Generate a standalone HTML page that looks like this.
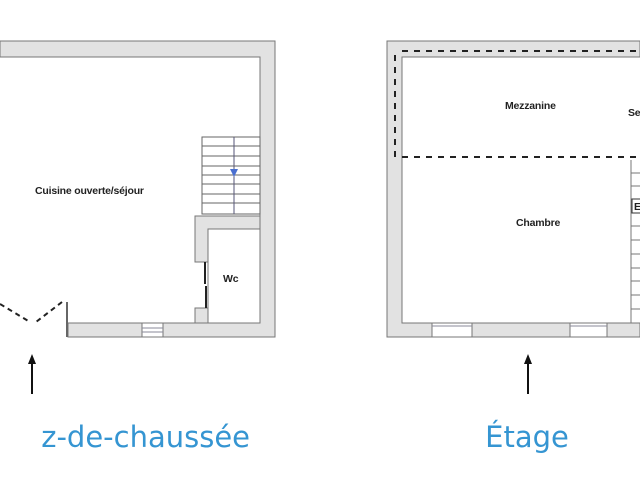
<!DOCTYPE html>
<html><head><meta charset="utf-8"><style>
html,body{margin:0;padding:0;background:#fff;width:640px;height:480px;overflow:hidden}
svg{display:block}
.t{font-family:"Liberation Sans",sans-serif;font-size:10.5px;fill:#222;font-weight:bold;letter-spacing:-0.2px}
.h{font-family:"DejaVu Sans","Liberation Sans",sans-serif;font-size:29px;fill:#3595d2}
</style></head><body>
<svg width="640" height="480" viewBox="0 0 640 480">
<g fill="#e2e2e2" stroke="#777" stroke-width="1">
<path d="M0 41 H275 V337 H68 V323 H260 V57 H0 Z"/>
<rect x="142" y="323" width="21" height="14" fill="#fff"/>
<path d="M195 216 H260 V229 H208 V262 H195 Z"/>
<rect x="195" y="308" width="13" height="15"/>
<line x1="208" y1="229" x2="208" y2="323"/>
<path d="M640 41 H387 V337 H640 V323 H402 V57 H640 Z"/>
<rect x="432" y="323" width="40" height="14" fill="#fff"/>
<rect x="570" y="323" width="37" height="14" fill="#fff"/>
</g>
<g stroke="#889" stroke-width="1">
<line x1="142" y1="328" x2="163" y2="328"/><line x1="142" y1="332" x2="163" y2="332"/>
<line x1="432" y1="326" x2="472" y2="326"/><line x1="570" y1="326" x2="607" y2="326"/>
</g>
<g stroke="#666" stroke-width="1" fill="none">
<rect x="202" y="137" width="58" height="77" fill="#fff"/>
<path d="M202 146H260M202 156H260M202 166H260M202 175H260M202 184H260M202 194H260M202 203H260"/>
<line x1="234" y1="137" x2="234" y2="214" stroke="#557"/>
</g>
<polygon points="230,169 238,169 234,177" fill="#4a6fd0"/>
<line x1="205" y1="262" x2="205" y2="284" stroke="#222" stroke-width="2"/>
<line x1="206" y1="286" x2="206" y2="308" stroke="#222" stroke-width="2"/>
<g stroke="#222" stroke-width="2" fill="none" stroke-dasharray="5 4">
<path d="M0 304 L30 322"/><path d="M62 302 L36 322"/>
</g>
<line x1="67" y1="302" x2="67" y2="337" stroke="#666" stroke-width="2"/>
<g stroke="#222" stroke-width="2" stroke-dasharray="6 6" fill="none">
<line x1="402" y1="51" x2="640" y2="51"/>
<line x1="395" y1="55" x2="395" y2="157"/>
<line x1="402" y1="157" x2="640" y2="157"/>
</g>
<g stroke="#777" stroke-width="1">
<line x1="631" y1="160" x2="631" y2="323"/>
<path d="M631 173H640M631 186H640M631 199H640M631 213H640M631 226H640M631 240H640M631 254H640M631 268H640M631 281H640M631 295H640M631 309H640"/>
</g>
<rect x="632" y="199" width="10" height="14" fill="#fff" stroke="#333"/>
<text class="t" x="634" y="210">E</text>
<text class="t" x="35" y="194">Cuisine ouverte/séjour</text>
<text class="t" x="223" y="282">Wc</text>
<text class="t" x="505" y="109">Mezzanine</text>
<text class="t" x="628" y="116">Se</text>
<text class="t" x="516" y="226">Chambre</text>
<g stroke="#111" stroke-width="2"><line x1="32" y1="362" x2="32" y2="394"/><line x1="528" y1="362" x2="528" y2="394"/></g>
<polygon points="28,364 36,364 32,354" fill="#111"/>
<polygon points="524,364 532,364 528,354" fill="#111"/>
<text class="h" x="250" y="447" text-anchor="end">z-de-chaussée</text>
<text class="h" x="527" y="447" text-anchor="middle">Étage</text>
</svg>
</body></html>
